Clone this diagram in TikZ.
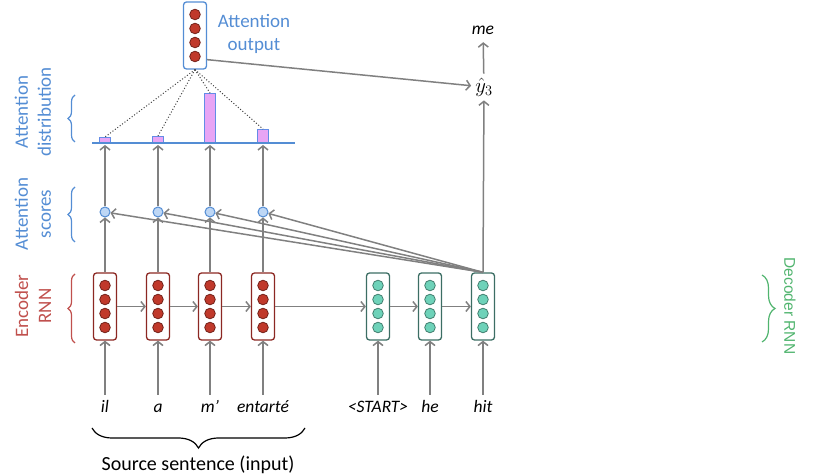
\documentclass[tikz,border=0pt]{standalone}
\usepackage{fontspec}
\setmainfont{Carlito}
\newfontfamily\arialfont{Liberation Sans}
\usetikzlibrary{arrows.meta,decorations.pathreplacing}

\definecolor{arrgray}{RGB}{128,128,128}
\definecolor{attblue}{RGB}{84,141,212}
\definecolor{baredge}{RGB}{100,140,230}
\definecolor{barpink}{RGB}{232,165,245}
\definecolor{scorefill}{RGB}{190,215,245}
\definecolor{encred}{RGB}{192,80,77}
\definecolor{encedge}{RGB}{140,40,35}
\definecolor{encdot}{RGB}{192,57,43}
\definecolor{decgreen}{RGB}{80,180,110}
\definecolor{decedge}{RGB}{60,110,100}
\definecolor{decdot}{RGB}{110,210,185}

\begin{document}
\begin{tikzpicture}[x=1pt,y=1pt,
	arr/.style={draw=arrgray, line width=1.5pt, -{Straight Barb[length=4pt,width=10pt]}},
	attline/.style={draw=darkgray, dotted, line width=1pt},
	cellbox/.style={draw, fill=white, rounded corners=3pt, line width=1.3pt, minimum width=23pt, minimum height=67pt, inner sep=0pt},
	score/.style={circle, draw=attblue, fill=scorefill, line width=1pt, minimum size=10pt, inner sep=0pt},
	bar/.style={draw=baredge, fill=barpink, line width=1pt, anchor=south, minimum width=11pt, inner sep=0pt},
	word/.style={font=\fontsize{17.5}{21}\selectfont\itshape, text height=11pt, text depth=3pt, inner xsep=2pt, inner ysep=7pt},
	lbl/.style={font=\fontsize{19}{23}\selectfont, align=center},
	brace/.style={decorate, line width=1.2pt},
	]
	
	\useasboundingbox (0,0) rectangle (824,476);
	
	\def\yCell{169.5}
	\def\yScore{264}
	\def\yBase{333}
	\def\yWord{67}
	
	% box with four dots: name, position, edge colour, dot colour
	\def\rnncell#1#2#3#4{%
		\node[cellbox, draw=#3] (#1) at (#2) {};
		\foreach \dy in {21,7,-7,-21}
			\filldraw[fill=#4, draw=#4!60!black, line width=0.8pt] ([yshift=\dy pt]#1.center) circle (5.3pt);
	}
	
	% encoder side
	\foreach \x/\w/\h [count=\i] in {105/il/5, 158/a/6, 210/m’/49, 263/entarté/13} {
		\rnncell{enc\i}{\x,\yCell}{encedge}{encdot}
		\node[word] (w\i) at (\x,\yWord) {\w};
		\node[score] (s\i) at (\x,\yScore) {};
		\node[bar, minimum height=\h pt] (b\i) at (\x,\yBase) {};
	}
	
	% decoder side
	\foreach \x/\w [count=\i] in {378/<START>, 430/he, 483/hit} {
		\rnncell{dec\i}{\x,\yCell}{decedge}{decdot}
		\node[word] (v\i) at (\x,\yWord) {\w};
		\draw[arr] (v\i) -- (dec\i);
	}
	
	\rnncell{attout}{195,440.5}{attblue}{encdot}
	\node[lbl, text=attblue] (attlbl) at (254,442) {Attention\\output};
	
	\node[font=\fontsize{21}{24}\selectfont, inner sep=4pt] (yhat) at (484,389) {$\hat{y}_3$};
	\node[word, inner ysep=4pt] (me) at (483,445) {me};
	
	\draw[attblue, line width=1.3pt] (92,\yBase) -- (295,\yBase);
	
	\foreach \i in {1,...,4} {
		\draw[arr] (w\i) -- (enc\i);
		\draw[arr] (enc\i) -- (s\i);
		\draw[arr, shorten >=2pt] (s\i) -- (b\i.south);
		\draw[arr] (dec3.north) -- (s\i);
		\draw[attline] (attout.south) -- (b\i.north);
	}
	
	\draw[arr] (enc1) -- (enc2);
	\draw[arr] (enc2) -- (enc3);
	\draw[arr] (enc3) -- (enc4);
	\draw[arr] (enc4) -- (dec1);
	\draw[arr] (dec1) -- (dec2);
	\draw[arr] (dec2) -- (dec3);
	
	\draw[arr] (dec3.north) -- (yhat);
	\draw[arr] (yhat) -- (me);
	\draw[arr] ([yshift=10pt]attout.south east) -- (yhat);
	
	% side labels
	\node[lbl, text=attblue, rotate=90] (distlbl) at (33,364) {Attention\\distribution};
	\draw[brace, attblue, decoration={brace, amplitude=7pt}] (75,334) -- (75,381);
	\node[lbl, text=attblue, rotate=90] (scorelbl) at (33,262) {Attention\\scores};
	\draw[brace, attblue, decoration={brace, amplitude=7pt}] (75,234) -- (75,289);
	\node[lbl, text=encred, rotate=90] (enclbl) at (33,170) {Encoder\\RNN};
	\draw[brace, encred, decoration={brace, amplitude=7pt}] (75,133) -- (75,202);
	\node[font=\fontsize{15.5}{18}\arialfont, text=decgreen, rotate=-90] (declbl) at (790,170) {Decoder RNN};
	\draw[brace, decgreen, decoration={brace, amplitude=13pt}] (762,201) -- (762,134);
	
	\draw[brace, black, decoration={brace, amplitude=20pt}] (305,48) -- (92,48);
	\node[lbl, font=\fontsize{20}{24}\selectfont] (srclbl) at (198,11) {Source sentence (input)};
\end{tikzpicture}
\end{document}
